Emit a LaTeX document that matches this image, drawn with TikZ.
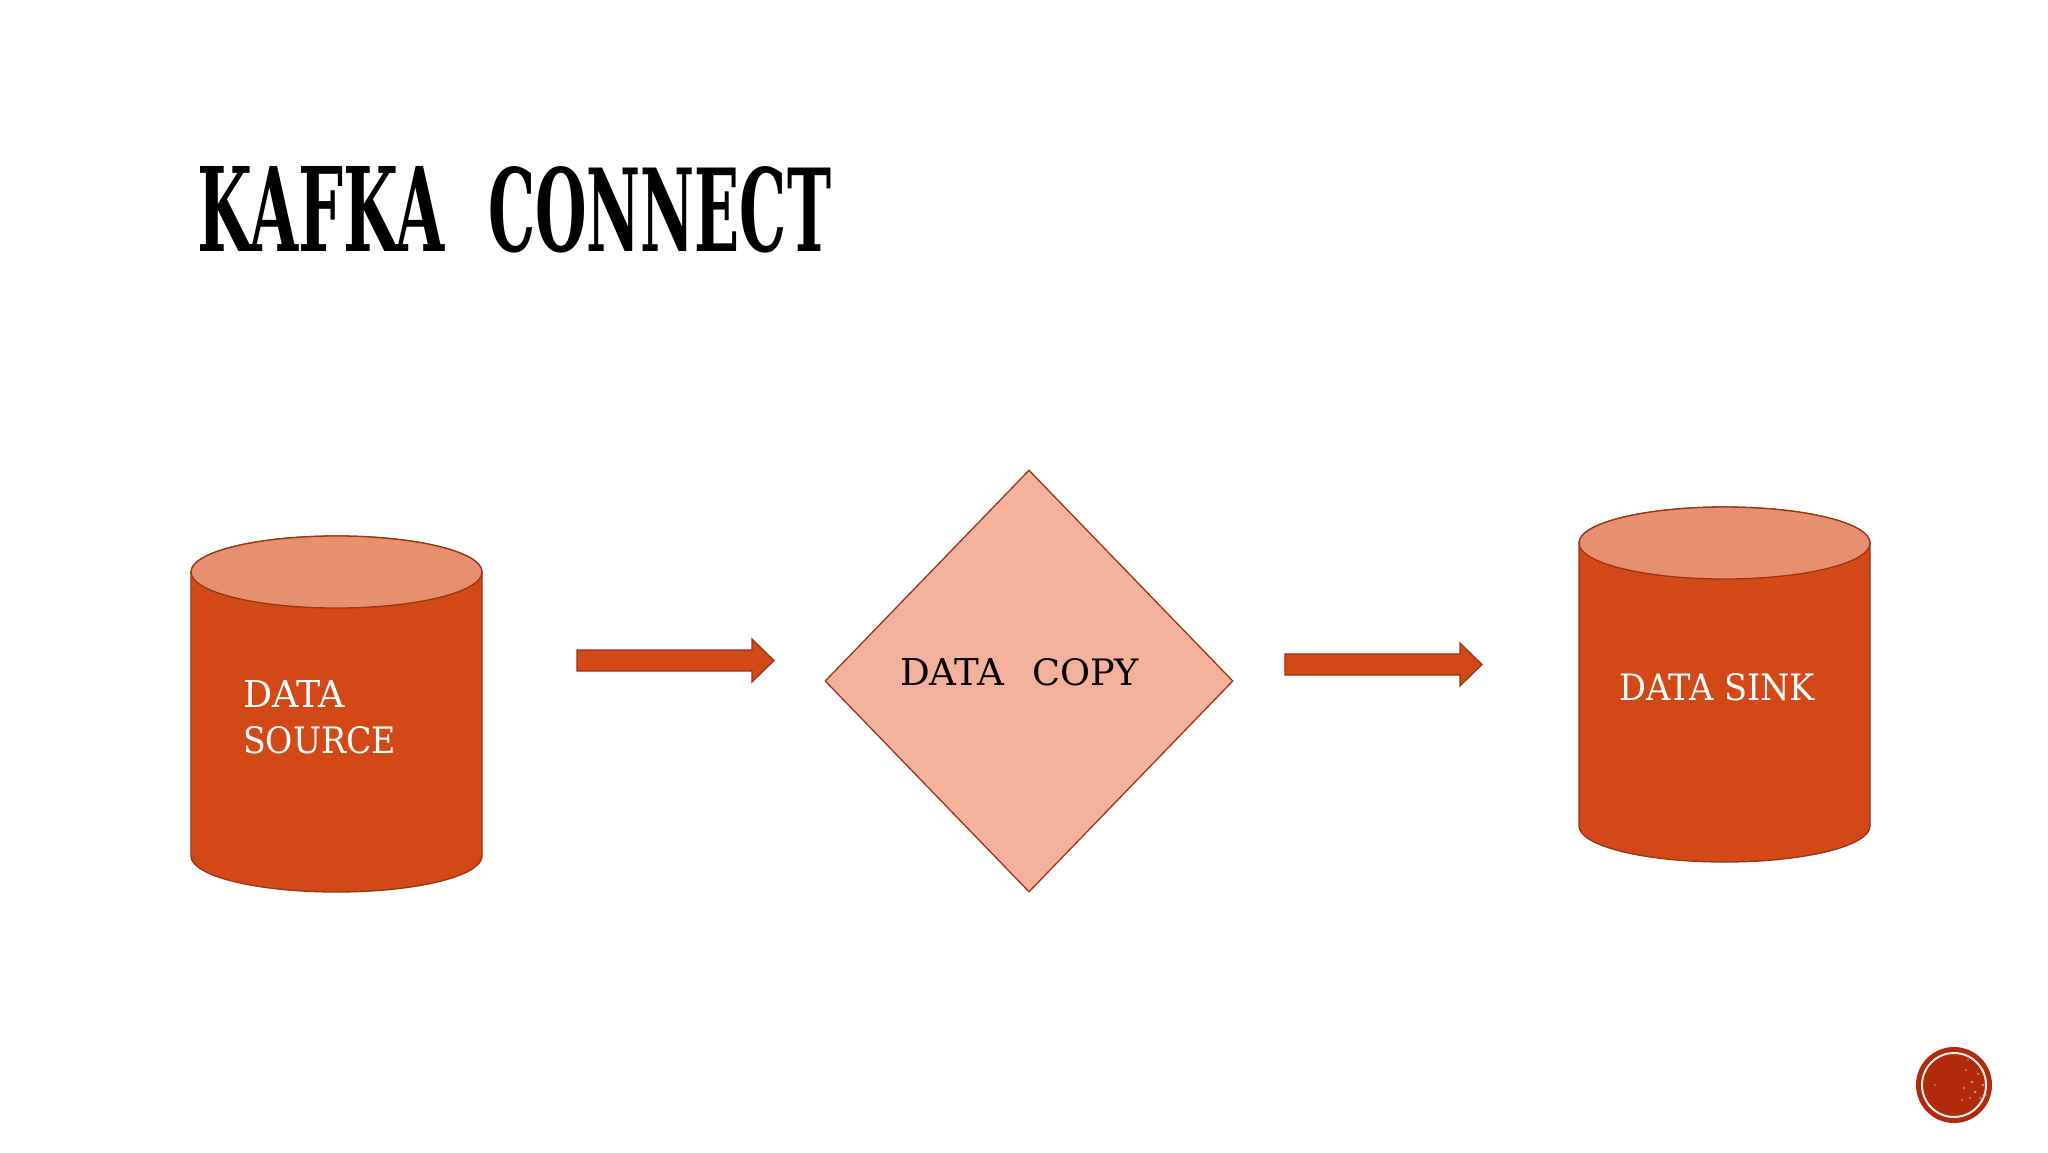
\documentclass[tikz,border=0pt]{standalone}
\usepackage{fontspec}
\usepackage{graphicx}
\usetikzlibrary{shapes.geometric}
\setmainfont{DejaVu Serif}
\definecolor{bodyorange}{HTML}{D34817}
\definecolor{toporange}{HTML}{E6906F}
\definecolor{diamondfill}{HTML}{F4B29C}
\definecolor{edgered}{HTML}{9B3412}
\definecolor{badgered}{HTML}{B12A0C}
\tikzset{
  body/.style={fill=bodyorange,draw=edgered,line width=1.3pt,line join=round},
  lid/.style={fill=toporange,draw=edgered,line width=1.3pt},
  diamondbox/.style={shape=diamond,draw=edgered,fill=diamondfill,line width=1.3pt,inner sep=0pt,minimum width=408pt,minimum height=422pt},
  blockarrow/.style={fill=bodyorange,draw=edgered,line width=1.2pt,line join=miter},
  label/.style={anchor=base west,inner sep=0pt,outer sep=0pt}
}
\begin{document}
\begin{tikzpicture}[x=1pt,y=-1pt]
\useasboundingbox (0,0) rectangle (2048,1152);
\fill[white] (0,0) rectangle (2048,1152);
% title
\node[label] (title) at (197,251) {\bfseries\resizebox{248pt}{85pt}{KAFKA}\hspace{43pt}\resizebox{343pt}{85pt}{CONNECT}};
% left cylinder
\draw[body] (191,572) -- (191,856) arc[start angle=180,end angle=0,x radius=145.5,y radius=36] -- (482,572) arc[start angle=0,end angle=-180,x radius=145.5,y radius=36] -- cycle;
\draw[lid] (336.5,572) ellipse[x radius=145.5,y radius=36];
\node[label,text=white] (srcA) at (243,707) {\resizebox{102pt}{27pt}{DATA}};
\node[label,text=white] (srcB) at (243,753) {\resizebox{153pt}{27pt}{SOURCE}};
% arrow 1
\coordinate (arrowA) at (577,660.5);
\draw[blockarrow] (arrowA) ++(0,-10.5) -- ++(175,0) -- ++(0,-11) -- ++(22,21.5) -- ++(-22,21.5) -- ++(0,-11) -- ++(-175,0) -- cycle;
% diamond
\node[diamondbox] (copy) at (1029,681) {};
\node[label,text=black] (copyA) at (900,685) {\resizebox{104pt}{27pt}{DATA}};
\node[label,text=black] (copyB) at (1032,685) {\resizebox{107pt}{27pt}{COPY}};
% arrow 2
\coordinate (arrowB) at (1285,664.5);
\draw[blockarrow] (arrowB) ++(0,-10.5) -- ++(175,0) -- ++(0,-11) -- ++(22,21.5) -- ++(-22,21.5) -- ++(0,-11) -- ++(-175,0) -- cycle;
% right cylinder
\draw[body] (1579,543) -- (1579,826) arc[start angle=180,end angle=0,x radius=145.5,y radius=36] -- (1870,543) arc[start angle=0,end angle=-180,x radius=145.5,y radius=36] -- cycle;
\draw[lid] (1724.5,543) ellipse[x radius=145.5,y radius=36];
\node[label,text=white] (sink) at (1619,700) {\resizebox{196pt}{27pt}{DATA SINK}};
% badge
\fill[badgered] (1954,1085) circle[radius=38];
\draw[white!92!badgered,line width=2pt] (1954,1085) circle[radius=32];
\foreach \px/\py/\pr in {1966/1070/1.2,1972/1082/1.5,1978/1074/1.2,1964/1088/1.1,1975/1092/1.5,1983/1085/1.3,1970/1098/1.2,1980/1098/1,1962/1100/1,1986/1095/1,1968/1060/.8,1935/1085/.8}
  \fill[toporange] (\px,\py) circle[radius=\pr];
\end{tikzpicture}
\end{document}
